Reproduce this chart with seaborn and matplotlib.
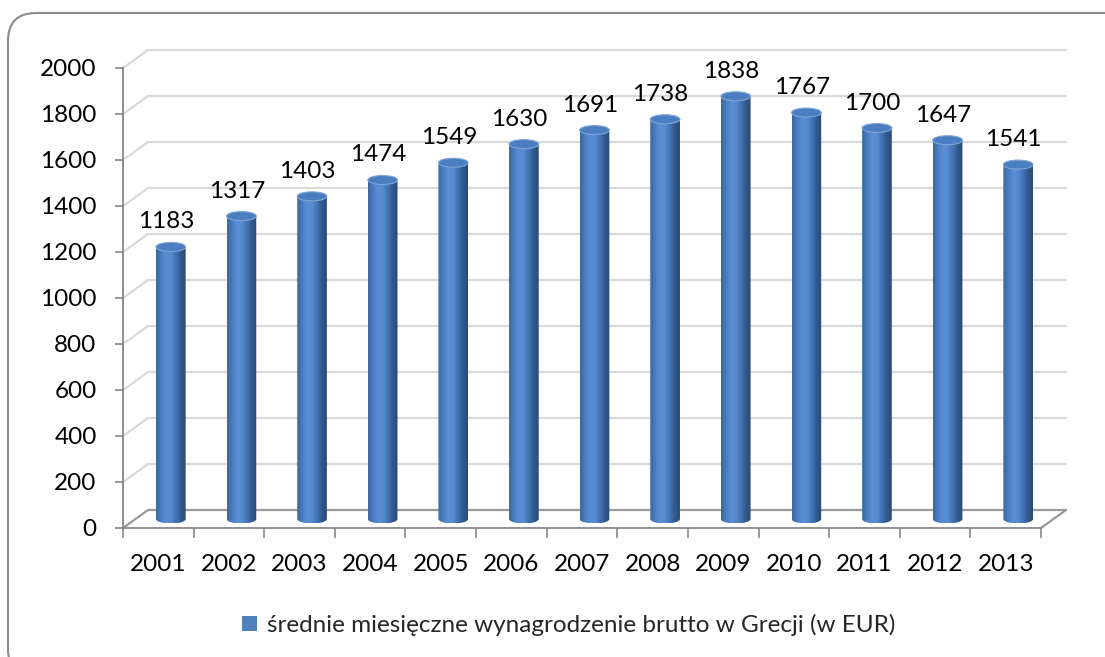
import numpy as np
import pandas as pd
import seaborn as sns
import matplotlib
matplotlib.use("Agg")
import matplotlib.pyplot as plt
from matplotlib.path import Path
from matplotlib.patches import PathPatch, Ellipse, Patch, FancyBboxPatch
from matplotlib.colors import LinearSegmentedColormap
from matplotlib.transforms import IdentityTransform

# dane
years = ["2001", "2002", "2003", "2004", "2005", "2006", "2007",
         "2008", "2009", "2010", "2011", "2012", "2013"]
wages = [1183, 1317, 1403, 1474, 1549, 1630, 1691, 1738, 1838, 1767, 1700, 1647, 1541]
series_name = "średnie miesięczne wynagrodzenie brutto w Grecji (w EUR)"
y_ticks = list(range(0, 2001, 200))

sns.set_theme(style="white")
plt.rcParams['font.family'] = ['Lato', 'DejaVu Sans']
FS = 17.5

df = pd.DataFrame({"rok": years, "wynagrodzenie": wages})

# geometria (piksele)
W, H = 1105, 657
AX_L, AX_R, AX_T, AX_B = 123, 1041, 68, 528
DEPTH_X, DEPTH_Y = 25, 18
YMAX = 2000
n = len(years)
px_per_cat = (AX_R - AX_L) / n
px_per_unit = (AX_B - AX_T) / YMAX
dx = DEPTH_X / px_per_cat
dy = DEPTH_Y / px_per_unit
eh = 4.5 / px_per_unit  # pol wysokosci elipsy

fig = plt.figure(figsize=(W / 100, H / 100), dpi=100)
ax = fig.add_axes([AX_L / W, (H - AX_B) / H, (AX_R - AX_L) / W, (AX_B - AX_T) / H])
ax.set_facecolor("none")

sns.barplot(data=df, x="rok", y="wynagrodzenie", color="#4f81bd", width=0.42, ax=ax)

# sciany 3D: siatka na tylnej scianie i lewej scianie
grid_c = "#d9d9d9"
floor_c = "#9a9a9a"
for v in y_ticks:
    c = floor_c if v == 0 else grid_c
    ax.plot([-0.5 + dx, n - 0.5 + dx], [v + dy, v + dy], color=c, lw=1.6,
            clip_on=False, zorder=0.5, solid_capstyle="round")
    ax.plot([-0.5, -0.5 + dx], [v, v + dy], color=c, lw=1.6, clip_on=False, zorder=0.5)
ax.plot([n - 0.5, n - 0.5 + dx], [0, dy], color=floor_c, lw=1.6, clip_on=False, zorder=0.5)

# walce
cyl_cmap = LinearSegmentedColormap.from_list(
    "cyl", ["#3a679f", "#4a7dbf", "#5a8fd5", "#568bcf", "#4274b3", "#33598d", "#2a4a77"])
grad = np.linspace(0, 1, 64).reshape(1, -1)
for p in list(ax.patches):
    w = p.get_width()
    cx = p.get_x() + w / 2 + dx / 2
    v = p.get_height()
    y0 = dy / 2
    y1 = v + dy / 2
    p.set_visible(False)
    t = np.linspace(np.pi, 2 * np.pi, 40)
    verts = [(cx - w / 2, y1), (cx - w / 2, y0)]
    verts += list(zip(cx + w / 2 * np.cos(t), y0 + eh * np.sin(t)))
    verts += [(cx + w / 2, y1), (cx - w / 2, y1)]
    codes = [Path.MOVETO] + [Path.LINETO] * (len(verts) - 2) + [Path.CLOSEPOLY]
    body = PathPatch(Path(verts, codes), facecolor="none", edgecolor="none")
    ax.add_patch(body)
    im = ax.imshow(grad, extent=[cx - w / 2, cx + w / 2, y0 - eh, y1], aspect="auto",
                   cmap=cyl_cmap, zorder=2, interpolation="bilinear")
    im.set_clip_path(body)
    ax.add_patch(Ellipse((cx, y1), w, 2 * eh, facecolor="#4b7ec0",
                         edgecolor="#7ea6da", lw=0.8, zorder=3))
    ax.text(cx - 4.5 / px_per_cat, y1 + 25 / px_per_unit, f"{int(v)}",
            ha="center", va="center", fontsize=FS, color="black", zorder=4)

ax.set_xlim(-0.5, n - 0.5)
ax.set_ylim(0, YMAX)
ax.set_xlabel("")
ax.set_ylabel("")

ax.set_yticks(y_ticks)
ax.set_yticklabels([str(v) for v in y_ticks])
ax.set_xticks(np.arange(-0.5, n, 1.0))
ax.set_xticklabels([])
ax.set_xticks(np.arange(n), minor=True)
ax.set_xticklabels(years, minor=True)
ax.tick_params(axis="y", which="major", left=True, direction="out", length=6,
               width=1.2, color="#868686", pad=13, labelsize=FS, labelcolor="black")
ax.tick_params(axis="x", which="major", bottom=True, direction="out", length=7,
               width=1.2, color="#868686")
ax.tick_params(axis="x", which="minor", bottom=True, length=0, pad=19,
               labelsize=FS, labelcolor="black")
for s in ["top", "right"]:
    ax.spines[s].set_visible(False)
for s in ["left", "bottom"]:
    ax.spines[s].set_color("#868686")
    ax.spines[s].set_linewidth(1.3)

handle = Patch(facecolor="#4f81bd", edgecolor="none", label=series_name)
fig.legend(handles=[handle], loc="center", bbox_to_anchor=(569 / W, (H - 625) / H),
           frameon=False, fontsize=FS, handlelength=0.62, handleheight=0.62,
           handletextpad=0.4)

# ramka wykresu z zaokraglonymi rogami
border = FancyBboxPatch((8, -20), 1130, H - 13 + 20, boxstyle="round,pad=0,rounding_size=28",
                        transform=IdentityTransform(), fill=False,
                        edgecolor="#8c8c8c", lw=1.5)
fig.add_artist(border)

fig.savefig("out.png", dpi=100)
